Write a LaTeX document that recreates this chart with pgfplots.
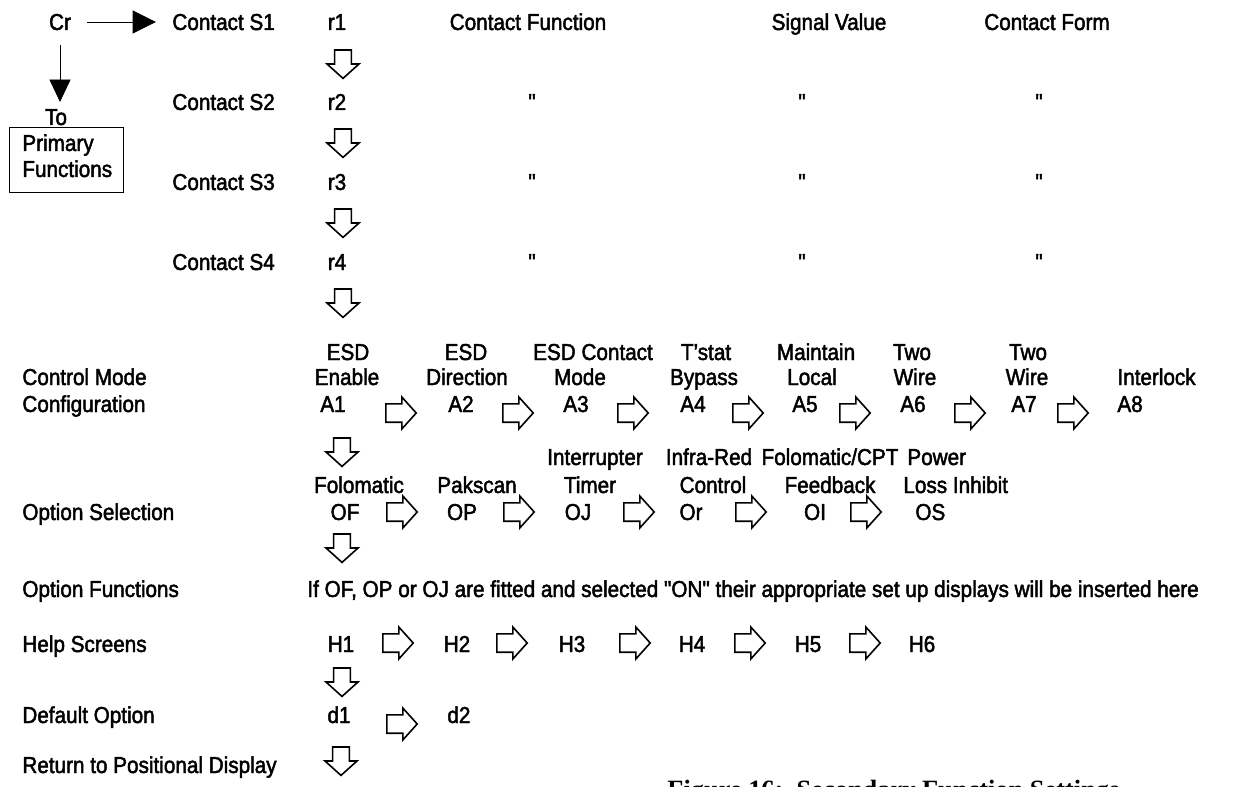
\documentclass[border=0pt]{standalone}
\usepackage{fontspec}
\setmainfont{Liberation Sans}[FakeStretch=0.9, FakeBold=2, Ligatures=TeXOff]
\newfontfamily\capfont{Liberation Serif}
\usepackage{pgfplots}
\pgfplotsset{compat=1.18}

% hollow block arrows, sizes in bp (1 px of the reference = 0.5 bp)
\pgfdeclareplotmark{darr}{%
  \pgfpathmoveto{\pgfpoint{-4.2bp}{7bp}}%
  \pgfpathlineto{\pgfpoint{4.2bp}{7bp}}%
  \pgfpathlineto{\pgfpoint{4.2bp}{0bp}}%
  \pgfpathlineto{\pgfpoint{8bp}{0bp}}%
  \pgfpathlineto{\pgfpoint{0bp}{-7.2bp}}%
  \pgfpathlineto{\pgfpoint{-8bp}{0bp}}%
  \pgfpathlineto{\pgfpoint{-4.2bp}{0bp}}%
  \pgfpathclose
  \pgfusepathqfillstroke}
\pgfdeclareplotmark{rarr}{%
  \pgfpathmoveto{\pgfpoint{-7.6bp}{4.6bp}}%
  \pgfpathlineto{\pgfpoint{0.4bp}{4.6bp}}%
  \pgfpathlineto{\pgfpoint{0.4bp}{8bp}}%
  \pgfpathlineto{\pgfpoint{7.6bp}{0bp}}%
  \pgfpathlineto{\pgfpoint{0.4bp}{-8bp}}%
  \pgfpathlineto{\pgfpoint{0.4bp}{-4.6bp}}%
  \pgfpathlineto{\pgfpoint{-7.6bp}{-4.6bp}}%
  \pgfpathclose
  \pgfusepathqfillstroke}

\tikzset{
  lbl/.style={font=\fontsize{11.5bp}{13bp}\selectfont, inner sep=0pt},
  c/.style={lbl, anchor=base},
  l/.style={lbl, anchor=base west},
}

\begin{document}
\begin{tikzpicture}
\begin{axis}[
  hide axis, scale only axis, clip=false,
  width=617.5bp, height=393.5bp,
  xmin=0, xmax=1235, ymin=0, ymax=787, y dir=reverse,
  ]
  % Cr arrows and box
  \addplot[black, line width=0.5bp] coordinates {(87,23) (133,23)};
  \addplot[black, fill=black] coordinates {(133,11) (155,22) (133,33)} -- cycle;
  \addplot[black, line width=0.5bp] coordinates {(60,45) (60,80)};
  \addplot[black, fill=black] coordinates {(50,80) (70,80) (60,101)} -- cycle;
  \addplot[black, line width=0.5bp] coordinates {(9,128) (123,128) (123,193) (9,193)} -- cycle;

  % down arrows
  \addplot[only marks, mark=darr, mark options={draw=black, fill=white, line width=0.8bp}]
    coordinates {(343,64) (343,143) (343,223) (343,303) (342,452) (342,548) (342,682) (341,761)};
  % right arrows
  \addplot[only marks, mark=rarr, mark options={draw=black, fill=white, line width=0.8bp}]
    coordinates {(401,413) (518,413) (633,413) (748,413) (855,413) (970,413) (1073,413)
                 (402,512) (519,512) (639,512) (751,512) (866,512)
                 (398,643) (512,643) (635,643) (750,643) (865,643)
                 (402,724)};

  % top block
  \node[c] at (60,30) {Cr};
  \node[c] at (56,125) {To};
  \node[l] at (22,151) {Primary};
  \node[l] at (22,177) {Functions};
  \node[l] at (172,30) {Contact S1};
  \node[l] at (172,110) {Contact S2};
  \node[l] at (172,190) {Contact S3};
  \node[l] at (172,270) {Contact S4};
  \node[c] at (337,30) {r1};
  \node[c] at (337,110) {r2};
  \node[c] at (337,190) {r3};
  \node[c] at (337,270) {r4};
  \node[c] at (528,30) {Contact Function};
  \node[c] at (829,30) {Signal Value};
  \node[c] at (1047,30) {Contact Form};
  \node[c] at (532,110) {"}; \node[c] at (802,110) {"}; \node[c] at (1039,110) {"};
  \node[c] at (532,190) {"}; \node[c] at (802,190) {"}; \node[c] at (1039,190) {"};
  \node[c] at (532,270) {"}; \node[c] at (802,270) {"}; \node[c] at (1039,270) {"};

  % control mode configuration
  \node[l] at (22,385) {Control Mode};
  \node[l] at (22,412) {Configuration};
  \node[c] at (348,360) {ESD};        \node[c] at (347,385) {Enable};    \node[c] at (333,412) {A1};
  \node[c] at (466,360) {ESD};        \node[c] at (467,385) {Direction}; \node[c] at (461,412) {A2};
  \node[c] at (593,360) {ESD Contact};\node[c] at (580,385) {Mode};      \node[c] at (576,412) {A3};
  \node[c] at (706,360) {T’stat};     \node[c] at (704,385) {Bypass};    \node[c] at (693,412) {A4};
  \node[c] at (816,360) {Maintain};   \node[c] at (812,385) {Local};     \node[c] at (805,412) {A5};
  \node[c] at (912,360) {Two};        \node[c] at (915,385) {Wire};      \node[c] at (913,412) {A6};
  \node[c] at (1028,360) {Two};       \node[c] at (1027,385) {Wire};     \node[c] at (1024,412) {A7};
  \node[l] at (1117,385) {Interlock}; \node[l] at (1117,412) {A8};

  % option selection
  \node[l] at (22,520) {Option Selection};
  \node[c] at (359,493) {Folomatic};  \node[c] at (345,520) {OF};
  \node[c] at (477,493) {Pakscan};    \node[c] at (462,520) {OP};
  \node[c] at (595,465) {Interrupter};\node[c] at (590,493) {Timer};    \node[c] at (578,520) {OJ};
  \node[c] at (709,465) {Infra-Red};  \node[c] at (713,493) {Control};  \node[c] at (691,520) {Or};
  \node[c] at (830,465) {Folomatic/CPT};\node[c] at (830,493) {Feedback};\node[c] at (815,520) {OI};
  \node[l] at (907,465) {Power};      \node[l] at (903,493) {Loss Inhibit}; \node[l] at (915,520) {OS};

  % option functions, help, default
  \node[l] at (22,597) {Option Functions};
  \node[l] at (307,597) {If OF, OP or OJ are fitted and selected "ON" their appropriate set up displays will be inserted here};
  \node[l] at (22,652) {Help Screens};
  \node[c] at (341,652) {H1};
  \node[c] at (457,652) {H2};
  \node[c] at (572,652) {H3};
  \node[c] at (692,652) {H4};
  \node[c] at (808,652) {H5};
  \node[c] at (922,652) {H6};
  \node[l] at (22,723) {Default Option};
  \node[c] at (339,723) {d1};
  \node[l] at (447,723) {d2};
  \node[l] at (22,773) {Return to Positional Display};

  \coordinate (cap) at (667,798);
\end{axis}
\begin{scope}
  \clip (0,0) rectangle (617.5bp,393.5bp);
  \node[anchor=base west, inner sep=0pt, font=\capfont\bfseries\fontsize{13.2bp}{15bp}\selectfont] at (cap)
    {Figure 16:\ \ Secondary Function Settings};
\end{scope}
\pgfresetboundingbox
\path (0,0) rectangle (617.5bp,393.5bp);
\end{tikzpicture}
\end{document}
